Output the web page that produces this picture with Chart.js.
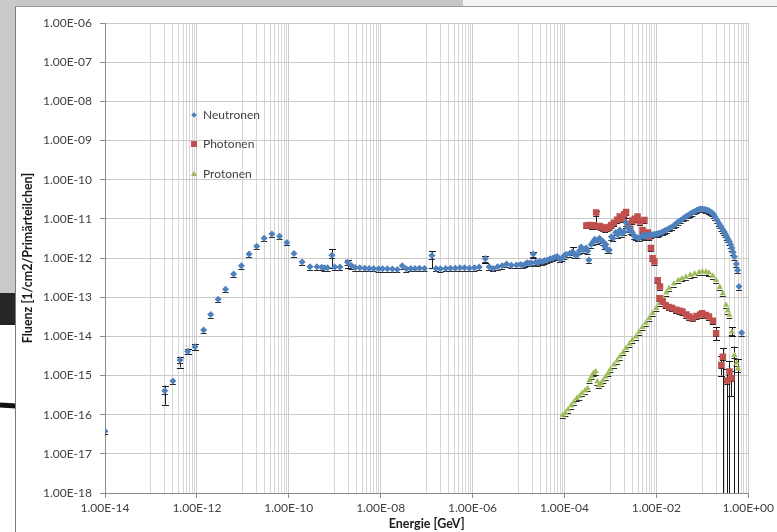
<!DOCTYPE html>
<html><head><meta charset="utf-8">
<script src="https://cdn.jsdelivr.net/npm/chart.js@4.4.1/dist/chart.umd.min.js"></script>
<style>
html,body{margin:0;padding:0;}
body{width:777px;height:532px;position:relative;overflow:hidden;background:#fff;font-family:Lato,sans-serif;}
#topband{position:absolute;left:0;top:0;width:463px;height:7px;background:#c6c6c6;}
#topband2{position:absolute;left:463px;top:0;width:314px;height:6px;background:#f4f4f4;border-bottom:1px solid #9a9a9a;}
#leftband{position:absolute;left:0;top:0;width:16px;height:293px;background:#c9c9c9;}
#leftdark{position:absolute;left:0;top:293px;width:16px;height:32px;background:#262626;}
#leftline{position:absolute;left:0;top:403px;width:16px;height:5px;background:#111;transform:rotate(4deg);}
#panel{position:absolute;left:15px;top:6px;width:762px;height:526px;border-left:1px solid #7a7a7a;border-top:1px solid #9a9a9a;background:#fff;}
#c{position:absolute;left:0;top:0;}
.leg{position:absolute;font:12px Lato,sans-serif;color:#404040;line-height:14px;white-space:nowrap;}
.mk{position:absolute;}
</style></head>
<body>
<div id="topband"></div><div id="topband2"></div>
<div id="leftband"></div><div id="leftdark"></div><div id="leftline"></div>
<div id="panel"><canvas id="c" width="761" height="525"></canvas></div>
<div class="mk" style="left:192px;top:113px;width:4px;height:4px;background:#4F81BD;transform:rotate(45deg);"></div>
<div class="leg" style="left:203px;top:108px;">Neutronen</div>
<div class="mk" style="left:191px;top:141px;width:6px;height:6px;background:#C0504D;"></div>
<div class="leg" style="left:203px;top:137px;">Photonen</div>
<div class="mk" style="left:191px;top:171px;width:0;height:0;border-left:3px solid transparent;border-right:3px solid transparent;border-bottom:5px solid #9BBB59;"></div>
<div class="leg" style="left:203px;top:167px;">Protonen</div>
<script>
// ---- data ----
const seriesNames = ['Neutronen', 'Photonen', 'Protonen'];

const neutronEnergy = [
  1e-14, 2.0e-13, 3.0e-13, 4.3e-13, 6.3e-13, 9.1e-13, 1.4e-12, 2.0e-12, 2.9e-12, 4.2e-12,
  6.3e-12, 9.3e-12, 1.37e-11, 2.0e-11, 2.9e-11, 4.3e-11, 6.3e-11, 9.1e-11, 1.3e-10, 1.95e-10,
  2.9e-10, 4.1e-10, 5.2e-10, 6.0e-10, 7.0e-10, 8.7e-10, 1.0e-9, 1.3e-9, 1.9e-9, 2.3e-9,
  2.8e-9, 3.5e-9, 4.5e-9, 5.6e-9, 7e-9, 9e-9, 1.1e-8, 1.4e-8, 1.8e-8, 2.3e-8,
  2.95e-8, 3.6e-8, 4.5e-8, 5.6e-8, 7e-8, 9e-8, 1.3e-7, 1.6e-7, 2e-7, 2.6e-7,
  3.3e-7, 4.2e-7, 5.3e-7, 6.7e-7, 8.5e-7, 1.1e-6, 1.4e-6, 1.9e-6, 2.3e-6, 2.8e-6,
  3.5e-6, 4.4e-6, 5.5e-6, 7e-6, 9e-6, 1.1e-5, 1.25e-5, 1.4e-5, 1.55e-5, 1.7e-5,
  1.9e-5, 2.1e-5, 2.35e-5, 2.6e-5, 2.9e-5, 3.3e-5, 3.7e-5, 4.2e-5, 4.8e-5, 5.5e-5,
  6.2e-5, 7e-5, 8e-5, 9e-5, 1.0e-4, 1.1e-4, 1.3e-4, 1.5e-4, 1.7e-4, 1.9e-4,
  2.1e-4, 2.3e-4, 2.6e-4, 2.95e-4, 3.2e-4, 3.4e-4, 3.8e-4, 4.2e-4, 4.6e-4, 5.2e-4,
  5.8e-4, 6.4e-4, 7e-4, 7.5e-4, 8e-4, 8.7e-4, 9.5e-4, 1.05e-3, 1.15e-3, 1.3e-3,
  1.45e-3, 1.6e-3, 1.8e-3, 2.0e-3, 2.2e-3, 2.4e-3, 2.6e-3, 2.8e-3, 3.0e-3, 3.3e-3,
  3.6e-3, 4.0e-3, 4.3e-3, 4.7e-3, 5.0e-3, 5.5e-3, 5.9e-3, 6.5e-3, 7e-3, 7.7e-3,
  8.5e-3, 9.3e-3, 1.0e-2, 1.1e-2, 1.17e-2, 1.3e-2, 1.4e-2, 1.55e-2, 1.7e-2, 1.95e-2,
  2.2e-2, 2.45e-2, 2.7e-2, 3.0e-2, 3.4e-2, 3.9e-2, 4.4e-2, 5.0e-2, 5.5e-2, 6.1e-2,
  6.8e-2, 7.6e-2, 8.5e-2, 0.093, 0.1, 0.11, 0.12, 0.13, 0.14, 0.153,
  0.166, 0.18, 0.19, 0.21, 0.23, 0.245, 0.26, 0.28, 0.30, 0.32,
  0.34, 0.365, 0.39, 0.415, 0.44, 0.47, 0.50, 0.55, 0.59, 0.63,
  0.72
];
const neutronFluence = [
  3.8e-17, 4.1e-16, 7.2e-16, 2.5e-15, 4.1e-15, 5.4e-15, 1.45e-14, 3.6e-14, 8.9e-14, 1.6e-13,
  3.9e-13, 6.3e-13, 1.26e-12, 2.0e-12, 3.2e-12, 4.1e-12, 3.6e-12, 2.5e-12, 1.3e-12, 7.9e-13,
  6.0e-13, 6.0e-13, 5.8e-13, 5.6e-13, 5.6e-13, 1.18e-12, 5.9e-13, 5.9e-13, 7.8e-13, 6.4e-13,
  5.7e-13, 5.6e-13, 5.5e-13, 5.4e-13, 5.4e-13, 5.3e-13, 5.3e-13, 5.3e-13, 5.2e-13, 5.1e-13,
  6.3e-13, 5.3e-13, 5.4e-13, 5.4e-13, 5.5e-13, 5.4e-13, 1.15e-12, 5.4e-13, 5.3e-13, 5.4e-13,
  5.5e-13, 5.5e-13, 5.6e-13, 5.6e-13, 5.5e-13, 5.6e-13, 5.9e-13, 9.5e-13, 6.0e-13, 5.4e-13,
  6.0e-13, 6.3e-13, 7.0e-13, 6.5e-13, 6.6e-13, 6.8e-13, 6.5e-13, 7.0e-13, 7.6e-13, 7.3e-13,
  7.4e-13, 1.26e-12, 7.8e-13, 7.6e-13, 8.3e-13, 8.0e-13, 8.6e-13, 8.8e-13, 9.4e-13, 9.8e-13,
  1.05e-12, 1.1e-12, 9.2e-13, 1.0e-12, 1.15e-12, 1.25e-12, 1.3e-12, 1.45e-12, 1.2e-12, 1.2e-12,
  1.5e-12, 1.9e-12, 1.6e-12, 1.8e-12, 1.5e-12, 8.9e-13, 2.2e-12, 2.6e-12, 3.0e-12, 2.7e-12,
  3.2e-12, 2.8e-12, 2.6e-12, 2.0e-12, 2.2e-12, 1.6e-12, 1.6e-12, 3.5e-12, 3.2e-12, 4.5e-12,
  3.9e-12, 5.2e-12, 4.2e-12, 4.6e-12, 8.0e-12, 5.8e-12, 5.8e-12, 4.9e-12, 4.5e-12, 3.6e-12,
  3.5e-12, 3.2e-12, 3.3e-12, 3.6e-12, 3.7e-12, 3.5e-12, 3.9e-12, 3.7e-12, 3.8e-12, 3.9e-12,
  4.0e-12, 4.0e-12, 4.1e-12, 4.2e-12, 4.3e-12, 4.5e-12, 4.7e-12, 5.0e-12, 5.3e-12, 5.8e-12,
  6.3e-12, 6.9e-12, 7.6e-12, 8.4e-12, 9.2e-12, 1.03e-11, 1.14e-11, 1.25e-11, 1.35e-11, 1.45e-11,
  1.55e-11, 1.65e-11, 1.75e-11, 1.78e-11, 1.78e-11, 1.76e-11, 1.7e-11, 1.66e-11, 1.6e-11, 1.5e-11,
  1.4e-11, 1.25e-11, 1.1e-11, 9.2e-12, 7.7e-12, 6.8e-12, 6.0e-12, 5.3e-12, 4.7e-12, 4.1e-12,
  3.5e-12, 3.0e-12, 2.6e-12, 2.2e-12, 1.8e-12, 1.4e-12, 1.07e-12, 7.0e-13, 4.9e-13, 1.86e-13,
  1.23e-14
];

const photonEnergy = [
  3.0e-4, 3.3e-4, 3.6e-4, 4.0e-4, 4.4e-4, 4.9e-4, 5.3e-4, 5.8e-4, 6.3e-4, 7.0e-4,
  7.7e-4, 8.5e-4, 9.5e-4, 1.05e-3, 1.2e-3, 1.4e-3, 1.6e-3, 1.8e-3, 2.0e-3, 2.2e-3,
  2.4e-3, 2.7e-3, 3.0e-3, 3.4e-3, 3.9e-3, 4.4e-3, 5.0e-3, 5.5e-3, 6.0e-3, 6.5e-3,
  7.0e-3, 7.6e-3, 8.3e-3, 9.1e-3, 1.07e-2, 1.2e-2, 1.17e-2, 1.38e-2, 1.6e-2, 1.9e-2,
  2.2e-2, 2.7e-2, 3.2e-2, 3.7e-2, 4.5e-2, 5.2e-2, 6.2e-2, 7.5e-2, 0.09, 0.10,
  0.12, 0.14, 0.17, 0.20, 0.26, 0.28, 0.35, 0.39, 0.43
];
const photonFluence = [
  6.8e-12, 6.9e-12, 7.0e-12, 6.7e-12, 6.9e-12, 1.45e-11, 6.5e-12, 6.6e-12, 6.2e-12, 6.0e-12,
  5.6e-12, 5.8e-12, 6.2e-12, 7.0e-12, 8.0e-12, 9.5e-12, 1.14e-11, 1.0e-11, 1.3e-11, 1.5e-11,
  7.5e-12, 5.6e-12, 9.0e-12, 1.0e-11, 1.14e-11, 8.5e-12, 5.2e-12, 9.3e-12, 3.9e-12, 4.5e-12,
  3.5e-12, 1.8e-12, 9.8e-13, 8.1e-13, 2.7e-13, 1.86e-13, 9.4e-14, 7.8e-14, 6.2e-14, 5.6e-14,
  5.3e-14, 4.8e-14, 4.5e-14, 4.3e-14, 3.6e-14, 3.2e-14, 2.9e-14, 3.3e-14, 3.6e-14, 3.9e-14,
  3.5e-14, 3.2e-14, 2.5e-14, 1.2e-14, 1.86e-15, 3.0e-15, 7.4e-16, 1.26e-15, 8.5e-16
];

const protonEnergy = [
  9.2e-5, 1.05e-4, 1.2e-4, 1.4e-4, 1.6e-4, 1.85e-4, 2.1e-4, 2.4e-4, 2.8e-4, 3.2e-4,
  3.5e-4, 3.9e-4, 4.3e-4, 4.8e-4, 5.2e-4, 5.6e-4, 6.3e-4, 7.0e-4, 7.9e-4, 9.0e-4,
  1.0e-3, 1.2e-3, 1.4e-3, 1.6e-3, 1.9e-3, 2.2e-3, 2.6e-3, 3.0e-3, 3.6e-3, 4.2e-3,
  5.0e-3, 5.9e-3, 7.0e-3, 8.3e-3, 1.0e-2, 1.17e-2, 1.4e-2, 1.65e-2, 1.9e-2, 2.4e-2,
  3.0e-2, 3.6e-2, 4.4e-2, 5.5e-2, 6.8e-2, 8.5e-2, 0.10, 0.12, 0.14, 0.17,
  0.20, 0.24, 0.28, 0.33, 0.36, 0.39, 0.44, 0.50, 0.56, 0.60
];
const protonFluence = [
  9.8e-17, 1.1e-16, 1.35e-16, 1.7e-16, 2.1e-16, 2.6e-16, 2.9e-16, 3.5e-16, 4.1e-16, 4.7e-16,
  7.5e-16, 9.5e-16, 1.15e-15, 1.26e-15, 7.0e-16, 5.6e-16, 6.3e-16, 7.5e-16, 9.3e-16, 1.15e-15,
  1.45e-15, 1.9e-15, 2.4e-15, 3.0e-15, 3.9e-15, 5.0e-15, 6.4e-15, 8.0e-15, 9.8e-15, 1.3e-14,
  1.7e-14, 2.2e-14, 2.9e-14, 3.9e-14, 5.2e-14, 6.9e-14, 9.5e-14, 1.3e-13, 1.7e-13, 2.2e-13,
  2.7e-13, 3.0e-13, 3.3e-13, 3.7e-13, 4.0e-13, 4.3e-13, 4.5e-13, 4.4e-13, 4.2e-13, 3.5e-13,
  2.7e-13, 1.8e-13, 1.25e-13, 6.3e-14, 4.5e-14, 3.5e-14, 1.3e-14, 3.3e-15, 2.1e-15, 1.5e-15
];

// visible error bars: energy, lower, upper
const neutronErrE  = [2.0e-13, 4.3e-13, 6.3e-13, 9.1e-13, 8.7e-10, 1.9e-9, 1.3e-7, 1.9e-6, 2.1e-5, 1.5e-4, 2.2e-3];
const neutronErrLo = [1.8e-16, 1.6e-15, 3.5e-15, 4.6e-15, 5.6e-13, 5.4e-13, 5.5e-13, 7.5e-13, 1.0e-12, 1.2e-12, 6.0e-12];
const neutronErrHi = [5.5e-16, 3.0e-15, 4.8e-15, 6.2e-15, 1.65e-12, 8.7e-13, 1.5e-12, 1.15e-12, 1.45e-12, 1.9e-12, 1.05e-11];
const photonErrE  = [4.9e-4, 0.20, 0.26, 0.28, 0.35, 0.39, 0.43];
const photonErrLo = [5.5e-12, 8.0e-15, 1.0e-15, 1e-20, 1e-20, 1e-20, 3.0e-16];
const photonErrHi = [1.6e-11, 1.7e-14, 3.2e-15, 5.0e-15, 1.5e-15, 2.3e-15, 1.3e-15];
const protonErrE  = [0.44, 0.50, 0.60];
const protonErrLo = [1.0e-14, 1e-20, 1e-20];
const protonErrHi = [1.7e-14, 5.5e-15, 2.6e-15];

// axis ticks
const xTickValues = [1e-14, 1e-12, 1e-10, 1e-8, 1e-6, 1e-4, 1e-2, 1];
const xTickLabels = ['1.00E-14', '1.00E-12', '1.00E-10', '1.00E-08', '1.00E-06', '1.00E-04', '1.00E-02', '1.00E+00'];
const yTickValues = [1e-18, 1e-17, 1e-16, 1e-15, 1e-14, 1e-13, 1e-12, 1e-11, 1e-10, 1e-9, 1e-8, 1e-7, 1e-6];
const yTickLabels = ['1.00E-18', '1.00E-17', '1.00E-16', '1.00E-15', '1.00E-14', '1.00E-13', '1.00E-12', '1.00E-11', '1.00E-10', '1.00E-09', '1.00E-08', '1.00E-07', '1.00E-06'];

// ---- helpers ----
function pts(xs, ys) { return xs.map((v, i) => ({x: v, y: ys[i]})); }
function matchIdx(v, arr) {
  for (let i = 0; i < arr.length; i++) if (Math.abs(Math.log10(v) - Math.log10(arr[i])) < 1e-6) return i;
  return -1;
}
// gridlines: major every labelled tick (x100), minor at 10,20,...,90 x each major value
const xGridValues = [];
for (let i = 0; i < xTickValues.length - 1; i++) {
  xGridValues.push(xTickValues[i]);
  for (let j = 1; j <= 9; j++) xGridValues.push(j * 10 * xTickValues[i]);
}
xGridValues.push(xTickValues[xTickValues.length - 1]);

const errSets = [
  {e: neutronErrE, lo: neutronErrLo, hi: neutronErrHi},
  {e: photonErrE, lo: photonErrLo, hi: photonErrHi},
  {e: protonErrE, lo: protonErrLo, hi: protonErrHi}
];

const errorBarPlugin = {
  id: 'errbars',
  beforeDatasetsDraw(chart) {
    const {ctx, chartArea: a, scales: {x, y}} = chart;
    ctx.save();
    ctx.beginPath();
    ctx.rect(a.left, a.top - 4, a.right - a.left + 4, a.bottom - a.top + 4);
    ctx.clip();
    ctx.lineWidth = 1;
    ctx.strokeStyle = '#2a2a2a';
    // small black cap under every marker
    chart.data.datasets.forEach(ds => {
      ds.data.forEach(p => {
        const px = x.getPixelForValue(p.x), py = Math.round(y.getPixelForValue(p.y) + 3) + 0.5;
        ctx.beginPath(); ctx.moveTo(px - 3, py); ctx.lineTo(px + 3, py); ctx.stroke();
      });
    });
    ctx.strokeStyle = '#1a1a1a';
    errSets.forEach(s => {
      s.e.forEach((e, i) => {
        const px = Math.round(x.getPixelForValue(e)) + 0.5;
        const y1 = y.getPixelForValue(s.hi[i]);
        const y2 = y.getPixelForValue(s.lo[i]);
        ctx.beginPath();
        ctx.moveTo(px, y1); ctx.lineTo(px, y2);
        ctx.moveTo(px - 3.5, Math.round(y1) + 0.5); ctx.lineTo(px + 3.5, Math.round(y1) + 0.5);
        ctx.moveTo(px - 3.5, Math.round(y2) + 0.5); ctx.lineTo(px + 3.5, Math.round(y2) + 0.5);
        ctx.stroke();
      });
    });
    ctx.restore();
  }
};

const tickFont = {family: 'Lato', size: 12};
const titleFont = {family: 'Lato', size: 12.5, weight: 'bold'};

new Chart(document.getElementById('c'), {
  type: 'scatter',
  data: {
    datasets: [
      {label: seriesNames[0], data: pts(neutronEnergy, neutronFluence), pointStyle: 'rectRot', pointRadius: 3.5,
       backgroundColor: '#4F81BD', borderColor: '#4F81BD', borderWidth: 0},
      {label: seriesNames[1], data: pts(photonEnergy, photonFluence), pointStyle: 'rect', pointRadius: 4.6,
       backgroundColor: '#C0504D', borderColor: '#C0504D', borderWidth: 0},
      {label: seriesNames[2], data: pts(protonEnergy, protonFluence), pointStyle: 'triangle', pointRadius: 3.6,
       backgroundColor: '#9BBB59', borderColor: '#9BBB59', borderWidth: 0}
    ]
  },
  options: {
    responsive: false, animation: false, devicePixelRatio: 1,
    layout: {padding: {top: 16, right: 28, left: 0, bottom: 0}},
    plugins: {legend: {display: false}, tooltip: {enabled: false}},
    scales: {
      x: {
        type: 'logarithmic', min: 1e-14, max: 1,
        afterBuildTicks: s => { s.ticks = xGridValues.map(v => ({value: v})); },
        afterFit: s => { s.height = 39; },
        ticks: {autoSkip: false, maxRotation: 0, minRotation: 0, padding: 3, color: '#404040', font: tickFont,
          callback: v => { const i = matchIdx(v, xTickValues); return i >= 0 ? xTickLabels[i] : ''; }},
        grid: {
          color: c => (c.tick && matchIdx(c.tick.value, xTickValues) >= 0) ? '#cacaca' : '#d6d6d6',
          tickLength: 5,
          tickColor: c => (c.tick && matchIdx(c.tick.value, xTickValues) >= 0) ? '#8a8a8a' : 'rgba(0,0,0,0)'
        },
        border: {color: '#8a8a8a'},
        title: {display: true, text: 'Energie [GeV]', color: '#1a1a1a', font: titleFont, padding: {top: 0, bottom: 1}}
      },
      y: {
        type: 'logarithmic', min: 1e-18, max: 1e-6,
        afterBuildTicks: s => { s.ticks = yTickValues.map(v => ({value: v})); },
        afterFit: s => { s.width = 89; },
        ticks: {autoSkip: false, padding: 8, color: '#404040', font: tickFont,
          callback: v => { const i = matchIdx(v, yTickValues); return i >= 0 ? yTickLabels[i] : ''; }},
        grid: {color: '#c9c9c9', tickLength: 5, tickColor: '#8a8a8a'},
        border: {color: '#8a8a8a'},
        title: {display: true, text: 'Fluenz [1/cm2/Primärteilchen]', color: '#1a1a1a', font: titleFont, padding: {top: 4, bottom: 0}}
      }
    }
  },
  plugins: [errorBarPlugin]
});
</script>
</body></html>
